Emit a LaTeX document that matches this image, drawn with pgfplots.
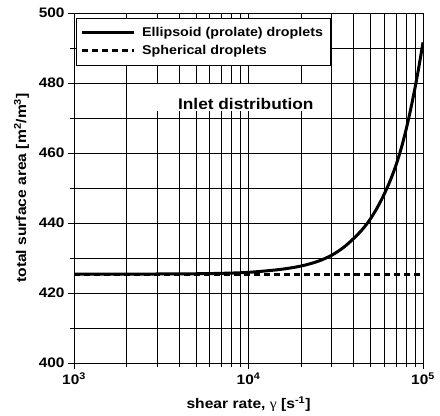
\documentclass[border=0pt]{standalone}
\usepackage{fontspec}
\setmainfont{Liberation Sans}[FakeStretch=1.12]
\newfontfamily\gfont{Liberation Serif}[FakeStretch=1.12]
\usepackage{pgfplots}
\pgfplotsset{compat=1.18}
\begin{document}
\begin{tikzpicture}
\path[use as bounding box] (-74bp,-53bp) rectangle (366bp,363bp);
\begin{axis}[
  at={(0,0)}, anchor=south west,
  scale only axis, width=349bp, height=350bp,
  xmode=log, xmin=1000, xmax=100000,
  ymin=400, ymax=500,
  xtick={1000,10000,100000},
  xticklabels={10\textsuperscript{3},10\textsuperscript{4},10\textsuperscript{5}},
  ytick={400,420,...,500},
  minor ytick={410,430,...,490},
  xmajorgrids, xminorgrids, ymajorgrids, yminorgrids,
  grid style={black, line width=0.6bp},
  minor grid style={black, line width=0.6bp},
  tick align=outside,
  major tick length=6bp, minor tick length=4bp,
  tick style={black, line width=0.8bp},
  axis line style={black, line width=0.8bp},
  xtick pos=left, ytick pos=left,
  /pgf/number format/assume math mode=true,
  yticklabel style={font=\fontsize{13.8}{16}\selectfont\bfseries},
  xticklabel style={font=\fontsize{13.8}{16}\selectfont\bfseries},
  every axis y label/.style={at={(axis description cs:0,0.5)}, xshift=-52.5bp, anchor=center, rotate=90, font=\fontsize{14}{16}\selectfont\bfseries},
  every axis x label/.style={at={(axis description cs:0.5,0)}, yshift=-41bp, anchor=center, font=\fontsize{14}{16}\selectfont\bfseries},
  ylabel={total surface area [m\textsuperscript{2}/m\textsuperscript{3}]},
  xlabel={shear rate, {\gfont\mdseries γ} [s\textsuperscript{-1}]},
  legend style={at={(0.0057,0.9857)}, anchor=north west, draw=black, line width=0.6bp, fill=white,
    font=\fontsize{12.8}{15}\selectfont\bfseries, inner xsep=4.6bp, inner ysep=5.5bp, row sep=1bp,
    nodes={inner sep=2.2bp, text height=10bp, text depth=3bp}, cells={anchor=west},
    /tikz/every odd column/.append style={column sep=4bp}},
  legend image code/.code={\draw[#1] (0bp,0bp) -- (52bp,0bp);},
]
\addplot[black, line width=3bp, smooth] coordinates {
(1000,425.40) (2000,425.41) (3000,425.43) (5000,425.50) (7000,425.62)
(10000,425.90) (15000,426.70) (20000,427.70) (25000,429.05) (30000,430.80)
(35000,433.00) (40000,435.55) (45000,438.20) (50000,441.20) (55000,444.60)
(60000,448.30) (65000,452.20) (70000,456.50) (75000,461.30) (80000,466.70)
(85000,472.50) (90000,478.60) (95000,485.00) (100000,491.60)
};
\addlegendentry{Ellipsoid (prolate) droplets}
\addplot[black, line width=3bp, dash pattern=on 6bp off 4bp] coordinates {
(1000,425.4) (100000,425.4)
};
\addlegendentry{Spherical droplets}
\fill[white] (axis cs:2080,472.0) rectangle (axis cs:29000,479.6);
\node[anchor=base, inner sep=0pt, font=\fontsize{15.5}{18}\selectfont\bfseries] at (axis cs:9650,472.3) {Inlet distribution};
\end{axis}
\end{tikzpicture}
\end{document}
